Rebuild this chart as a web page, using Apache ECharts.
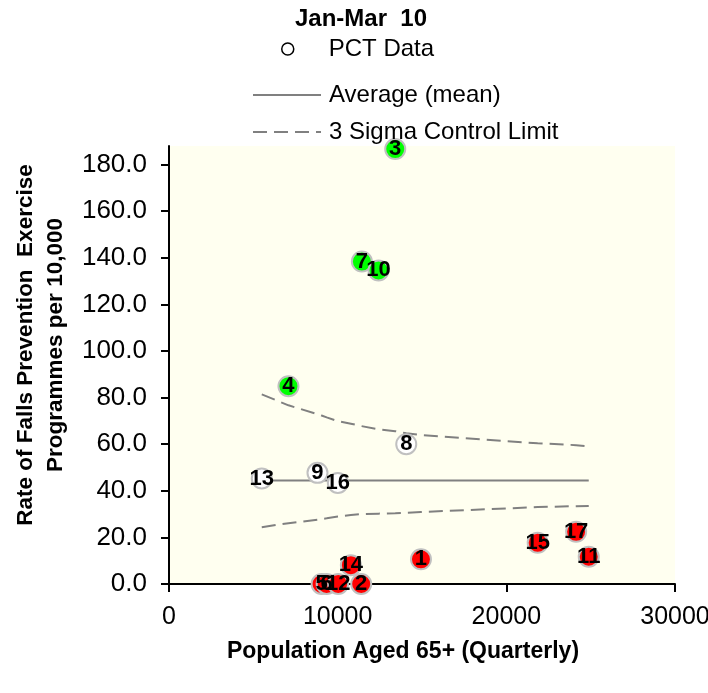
<!DOCTYPE html>
<html>
<head>
<meta charset="utf-8">
<script src="https://cdn.jsdelivr.net/npm/echarts@6/dist/echarts.min.js"></script>
<style>
html,body{margin:0;padding:0;background:#fff;}
#chart{width:708px;height:693px;}
</style>
</head>
<body>
<div id="chart"></div>
<script>
// PCT identifiers (point labels)
var pctLabels = ['1','2','3','4','5','6','7','8','9','10','11','12','13','14','15','16','17'];
// Population aged 65+ (quarterly), per PCT
var population = [14938, 11395, 13413, 7082, 9045, 9348, 11436, 14066, 8803, 12422, 24886, 10030, 5500, 10783, 21859, 10011, 24137];
// Rate of falls prevention exercise programmes per 10,000, per PCT
var rates = [10.6, 0, 186.7, 84.9, 0, 0, 138.4, 60.0, 47.7, 134.6, 11.7, 0, 45.3, 8.1, 17.7, 43.4, 22.4];
// 3 sigma control limits at each PCT's population
var upperLimit = [63.9, 67.8, 65.6, 76.7, 72.3, 71.5, 67.7, 64.7, 72.9, 66.4, 59.1, 69.9, 81.4, 68.8, 60.4, 69.9, 59.6];
var lowerLimit = [30.9, 30.0, 30.4, 26.1, 27.9, 28.2, 30.0, 30.6, 27.6, 30.2, 33.5, 29.1, 24.4, 29.6, 33.0, 29.0, 33.4];
// Average (mean) rate
var meanRate = 44.4;
// Axis ticks
var yTicks = [0, 20, 40, 60, 80, 100, 120, 140, 160, 180];
var xTicks = [0, 10000, 20000, 30000];

var chart = echarts.init(document.getElementById('chart'), null, {renderer: 'canvas'});

var FONT = "'Liberation Sans', Arial, sans-serif";
var NARROW = "'Liberation Sans Narrow', 'Arial Narrow', 'Liberation Sans', Arial, sans-serif";

var order = population.map(function (p, i) { return i; }).sort(function (a, b) { return population[a] - population[b]; });

var scatterData = population.map(function (p, i) {
  var fill = '#FFFFFF';
  if (rates[i] > upperLimit[i]) fill = '#00FF00';
  else if (rates[i] < lowerLimit[i]) fill = '#FF0000';
  return { value: [p, rates[i]], name: pctLabels[i], itemStyle: { color: fill } };
});
var meanData = order.map(function (i) { return [population[i], meanRate]; });
var upperData = order.map(function (i) { return [population[i], upperLimit[i]]; });
var lowerData = order.map(function (i) { return [population[i], lowerLimit[i]]; });

var dash = [14, 7];
var noSymbol = { color: 'rgba(0,0,0,0)', borderWidth: 0, opacity: 0 };

chart.setOption({
  animation: false,
  backgroundColor: '#FFFFFF',
  title: {
    text: 'Jan-Mar  10',
    left: 295, top: 7, padding: 0,
    textStyle: { fontFamily: FONT, fontSize: 24, fontWeight: 'bold', color: '#000' }
  },
  legend: [
    {
      data: [{ name: 'PCT Data', icon: 'circle', itemStyle: { color: '#FFFFFF', borderColor: '#000000', borderWidth: 1.5 } }],
      left: 281, top: 37, padding: 0, itemWidth: 12, itemHeight: 12, selectedMode: false,
      textStyle: { fontFamily: FONT, fontSize: 24, color: '#000', padding: [0, 0, 0, 30] }
    },
    {
      data: [{ name: 'Average (mean)', itemStyle: noSymbol }],
      left: 252, top: 83, padding: 0, itemWidth: 68, itemHeight: 14, selectedMode: false,
      itemStyle: noSymbol,
      textStyle: { fontFamily: FONT, fontSize: 24, color: '#000', padding: [4, 0, 0, 3] }
    },
    {
      data: [{ name: '3 Sigma Control Limit', itemStyle: noSymbol }],
      left: 252, top: 120, padding: 0, itemWidth: 68, itemHeight: 14, selectedMode: false,
      itemStyle: noSymbol,
      textStyle: { fontFamily: FONT, fontSize: 24, color: '#000', padding: [4, 0, 0, 3] }
    }
  ],
  grid: {
    left: 169, right: 33, top: 146, bottom: 109,
    outerBoundsMode: 'none', containLabel: false,
    show: true, backgroundColor: '#FFFFF0', borderWidth: 0
  },
  xAxis: {
    type: 'value', min: 0, max: 30000, interval: 10000,
    name: 'Population Aged 65+ (Quarterly)',
    nameLocation: 'middle', nameGap: 56,
    nameTextStyle: { fontFamily: FONT, fontSize: 23, fontWeight: 'bold', color: '#000', padding: [0, 38, 0, 0] },
    axisLine: { onZero: false, lineStyle: { color: '#000', width: 2 } },
    axisTick: { show: true, inside: false, length: 8, lineStyle: { color: '#000', width: 2 }, customValues: xTicks },
    axisLabel: {
      margin: 21, fontFamily: FONT, fontSize: 25, color: '#000', customValues: xTicks, hideOverlap: false,
      formatter: function (v) { return String(v); }
    },
    splitLine: { show: false }
  },
  yAxis: {
    type: 'value', min: 0, max: 188, interval: 20,
    name: 'Rate of Falls Prevention  Exercise\nProgrammes per 10,000',
    nameLocation: 'middle', nameGap: 94,
    nameTextStyle: { fontFamily: FONT, fontSize: 22.5, fontWeight: 'bold', color: '#000', lineHeight: 30, padding: [0, 0, 0, 40] },
    axisLine: { onZero: false, lineStyle: { color: '#000', width: 2 } },
    axisTick: { show: true, inside: false, length: 8, lineStyle: { color: '#000', width: 2 }, customValues: yTicks },
    axisLabel: {
      margin: 22, fontFamily: FONT, fontSize: 26, color: '#000', customValues: yTicks,
      formatter: function (v) { return v.toFixed(1); }
    },
    splitLine: { show: false }
  },
  series: [
    {
      name: 'Average (mean)', type: 'line', data: meanData, symbol: 'none', showSymbol: false, z: 2,
      lineStyle: { color: '#808080', width: 2 }, itemStyle: { color: '#808080' }
    },
    {
      name: '3 Sigma Control Limit', type: 'line', data: upperData, symbol: 'none', showSymbol: false, z: 2,
      lineStyle: { color: '#808080', width: 2, type: dash }, itemStyle: { color: '#808080' }
    },
    {
      name: '3 Sigma Control Limit', type: 'line', data: lowerData, symbol: 'none', showSymbol: false, z: 2,
      lineStyle: { color: '#808080', width: 2, type: dash }, itemStyle: { color: '#808080' }
    },
    {
      name: 'PCT Data', type: 'scatter', data: scatterData, symbol: 'circle', symbolSize: 20, z: 3,
      itemStyle: { borderColor: '#C0C0C0', borderWidth: 2, opacity: 1 },
      label: {
        show: true, position: 'inside', formatter: '{b}',
        fontFamily: NARROW, fontSize: 22, fontWeight: 'bold', color: '#000'
      },
      labelLayout: { hideOverlap: false }
    }
  ]
});
</script>
</body>
</html>
